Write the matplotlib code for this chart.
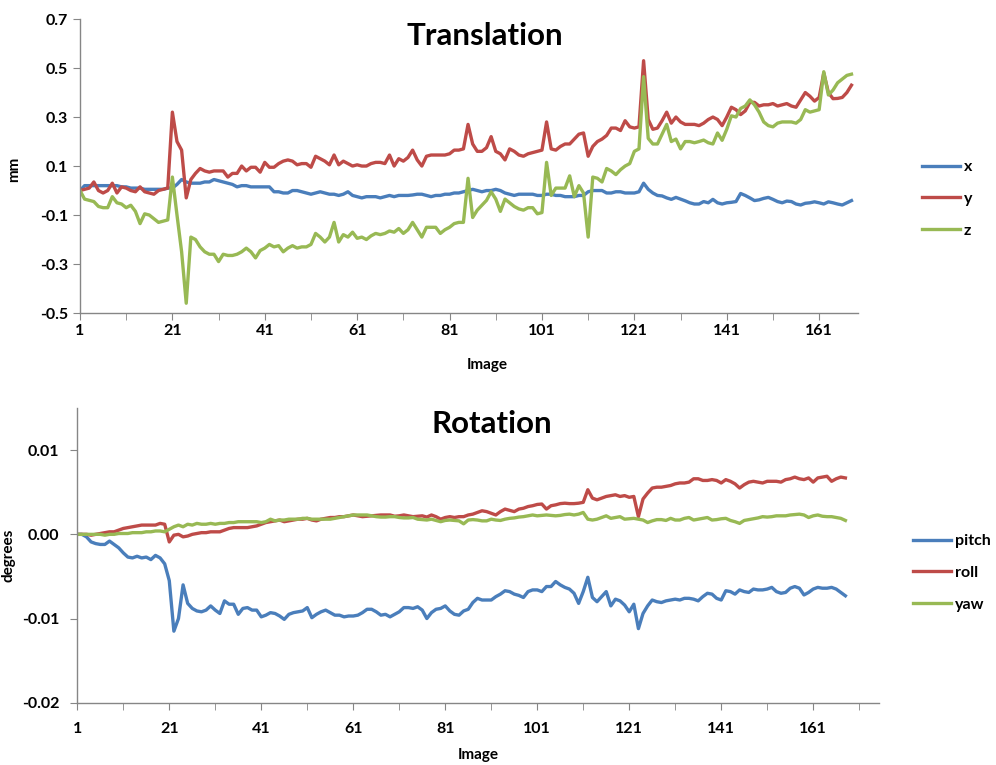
import numpy as np
import matplotlib.pyplot as plt

plt.rcParams['font.family'] = ['Lato', 'DejaVu Sans']
plt.rcParams['font.weight'] = 'bold'
plt.rcParams['axes.unicode_minus'] = False

images = np.arange(1, 169)

# translation, mm
trans_x = [0.00, 0.02, 0.02, 0.02, 0.02, 0.02, 0.02, 0.02, 0.02, 0.015,
           0.015, 0.01, 0.01, 0.01, 0.005, 0.005, 0.005, 0.005, 0.005, 0.01,
           0.01, 0.025, 0.045, 0.035, 0.03, 0.03, 0.03, 0.035, 0.035, 0.045,
           0.04, 0.035, 0.03, 0.025, 0.015, 0.02, 0.02, 0.015, 0.015, 0.015,
           0.015, 0.015, -0.005, -0.005, -0.01, -0.01, 0.0, 0.0, -0.005, -0.01,
           -0.015, -0.01, -0.005, -0.01, -0.015, -0.015, -0.02, -0.015, -0.005, -0.02,
           -0.025, -0.03, -0.025, -0.025, -0.025, -0.03, -0.025, -0.02, -0.025, -0.02,
           -0.02, -0.02, -0.018, -0.015, -0.015, -0.02, -0.025, -0.02, -0.02, -0.015,
           -0.015, -0.01, -0.01, -0.005, 0.0, 0.005, 0.0, -0.005, 0.0, 0.0,
           0.005, 0.0, -0.01, -0.015, -0.02, -0.015, -0.015, -0.015, -0.015, -0.02,
           -0.02, -0.015, -0.015, -0.02, -0.02, -0.025, -0.025, -0.025, -0.02, -0.02,
           -0.005, 0.0, 0.0, 0.0, -0.01, -0.01, -0.005, -0.005, -0.01, -0.01,
           -0.01, -0.005, 0.03, 0.005, -0.01, -0.02, -0.022, -0.03, -0.036, -0.028,
           -0.035, -0.042, -0.05, -0.055, -0.055, -0.045, -0.05, -0.036, -0.05, -0.055,
           -0.05, -0.048, -0.045, -0.012, -0.02, -0.03, -0.041, -0.038, -0.032, -0.028,
           -0.036, -0.045, -0.05, -0.043, -0.045, -0.055, -0.059, -0.052, -0.05, -0.046,
           -0.05, -0.055, -0.046, -0.05, -0.055, -0.059, -0.05, -0.041]
trans_y = [0.0, 0.005, 0.01, 0.035, 0.0, -0.01, 0.0, 0.03, -0.01, 0.015,
           0.01, 0.0, -0.005, 0.015, -0.005, -0.01, -0.015, 0.0, 0.005, 0.01,
           0.32, 0.20, 0.165, -0.03, 0.045, 0.07, 0.09, 0.08, 0.075, 0.08,
           0.08, 0.08, 0.055, 0.07, 0.07, 0.10, 0.08, 0.095, 0.095, 0.075,
           0.115, 0.095, 0.095, 0.11, 0.12, 0.125, 0.12, 0.105, 0.11, 0.11,
           0.095, 0.14, 0.13, 0.12, 0.105, 0.145, 0.105, 0.12, 0.11, 0.10,
           0.105, 0.10, 0.10, 0.11, 0.115, 0.115, 0.11, 0.145, 0.10, 0.13,
           0.12, 0.135, 0.165, 0.125, 0.10, 0.14, 0.145, 0.145, 0.145, 0.145,
           0.15, 0.165, 0.165, 0.17, 0.27, 0.19, 0.16, 0.16, 0.175, 0.22,
           0.16, 0.15, 0.125, 0.17, 0.16, 0.145, 0.14, 0.15, 0.155, 0.16,
           0.165, 0.28, 0.17, 0.165, 0.18, 0.19, 0.19, 0.21, 0.23, 0.235,
           0.14, 0.18, 0.20, 0.21, 0.225, 0.255, 0.255, 0.245, 0.285, 0.26,
           0.255, 0.26, 0.53, 0.29, 0.25, 0.255, 0.285, 0.32, 0.275, 0.30,
           0.28, 0.27, 0.27, 0.27, 0.265, 0.275, 0.29, 0.30, 0.29, 0.265,
           0.30, 0.34, 0.33, 0.31, 0.325, 0.36, 0.36, 0.345, 0.35, 0.35,
           0.355, 0.345, 0.35, 0.355, 0.345, 0.34, 0.37, 0.40, 0.385, 0.365,
           0.38, 0.48, 0.40, 0.375, 0.376, 0.38, 0.40, 0.43]
trans_z = [0.0, -0.035, -0.04, -0.045, -0.065, -0.07, -0.07, -0.025, -0.05, -0.055,
           -0.07, -0.06, -0.085, -0.135, -0.095, -0.10, -0.115, -0.13, -0.125, -0.12,
           0.055, -0.10, -0.25, -0.46, -0.19, -0.20, -0.23, -0.25, -0.26, -0.26,
           -0.29, -0.26, -0.265, -0.265, -0.26, -0.25, -0.235, -0.25, -0.275, -0.245,
           -0.235, -0.22, -0.23, -0.225, -0.25, -0.235, -0.225, -0.235, -0.23, -0.23,
           -0.22, -0.175, -0.19, -0.21, -0.19, -0.13, -0.21, -0.18, -0.19, -0.17,
           -0.195, -0.19, -0.20, -0.185, -0.175, -0.18, -0.175, -0.165, -0.17, -0.155,
           -0.175, -0.16, -0.13, -0.16, -0.19, -0.15, -0.15, -0.15, -0.175, -0.16,
           -0.15, -0.135, -0.13, -0.13, 0.05, -0.11, -0.08, -0.06, -0.04, -0.005,
           -0.035, -0.085, -0.035, -0.05, -0.065, -0.075, -0.08, -0.07, -0.07, -0.095,
           -0.09, 0.115, -0.02, 0.01, 0.01, 0.01, 0.06, -0.025, 0.02, -0.01,
           -0.19, 0.055, 0.05, 0.035, 0.09, 0.08, 0.065, 0.085, 0.10, 0.11,
           0.16, 0.17, 0.465, 0.213, 0.19, 0.19, 0.23, 0.27, 0.20, 0.21,
           0.17, 0.20, 0.20, 0.195, 0.20, 0.206, 0.195, 0.19, 0.235, 0.205,
           0.25, 0.305, 0.30, 0.335, 0.345, 0.37, 0.35, 0.32, 0.28, 0.265,
           0.26, 0.275, 0.28, 0.28, 0.28, 0.275, 0.29, 0.33, 0.32, 0.325,
           0.33, 0.485, 0.39, 0.41, 0.44, 0.455, 0.47, 0.475]

# rotation, in thousandths of a degree
pitch_mdeg = [0, 0, -0.3, -0.9, -1.1, -1.2, -1.2, -0.8, -1.2, -1.6,
              -2.2, -2.7, -2.8, -2.6, -2.8, -2.7, -3.0, -2.5, -2.8, -3.5,
              -5.5, -11.5, -10.0, -6.0, -8.2, -8.8, -9.1, -9.2, -9.0, -8.5,
              -9.0, -9.4, -7.9, -8.3, -8.3, -9.5, -8.8, -8.7, -9.0, -9.0,
              -9.8, -9.6, -9.3, -9.4, -9.7, -10.1, -9.5, -9.3, -9.2, -9.1,
              -8.7, -9.9, -9.5, -9.2, -9.0, -9.3, -9.6, -9.6, -9.8, -9.7,
              -9.7, -9.6, -9.3, -8.9, -8.9, -9.2, -9.6, -9.5, -9.8, -9.5,
              -9.2, -8.7, -8.7, -8.8, -8.6, -9.0, -10.0, -9.3, -8.9, -8.8,
              -8.5, -9.1, -9.5, -9.6, -9.1, -8.9, -8.1, -7.6, -7.8, -7.8,
              -7.8, -7.4, -7.1, -6.7, -6.8, -7.1, -7.25, -7.5, -6.8, -6.6,
              -6.6, -6.8, -6.2, -6.2, -5.6, -6.0, -6.3, -6.5, -7.0, -8.2,
              -6.8, -5.1, -7.5, -8.0, -7.4, -6.8, -8.5, -7.7, -7.9, -8.4,
              -9.2, -8.3, -11.2, -9.4, -8.5, -7.8, -8.0, -8.1, -7.9, -7.8,
              -7.7, -7.8, -7.6, -7.6, -7.7, -7.9, -7.4, -7.0, -7.1, -7.6,
              -7.8, -6.7, -6.8, -7.1, -6.6, -6.8, -6.9, -6.5, -6.6, -6.6,
              -6.5, -6.3, -6.8, -7.0, -6.9, -6.4, -6.2, -6.4, -7.2, -6.9,
              -6.5, -6.3, -6.4, -6.4, -6.3, -6.5, -6.9, -7.3]
roll_mdeg = [0, 0, 0, -0.1, 0.0, 0.1, 0.2, 0.3, 0.3, 0.5,
             0.7, 0.8, 0.9, 1.0, 1.1, 1.1, 1.1, 1.1, 1.3, 1.2,
             -0.9, -0.1, 0.0, -0.3, -0.2, 0.0, 0.1, 0.2, 0.2, 0.3,
             0.3, 0.3, 0.5, 0.7, 0.8, 0.8, 0.8, 0.8, 0.9, 1.0,
             1.2, 1.4, 1.5, 1.6, 1.7, 1.5, 1.6, 1.7, 1.8, 1.8,
             1.9, 1.7, 1.6, 1.8, 1.9, 2.0, 2.0, 2.1, 2.1, 2.2,
             2.3, 2.2, 2.1, 2.15, 2.2, 2.25, 2.3, 2.3, 2.3, 2.15,
             2.2, 2.3, 2.2, 2.1, 2.15, 2.2, 2.05, 2.3, 2.1, 1.8,
             2.0, 2.1, 2.0, 2.1, 2.1, 2.3, 2.4, 2.6, 2.8, 2.7,
             2.5, 2.3, 2.7, 3.0, 2.85, 2.7, 3.0, 3.1, 3.3, 3.4,
             3.55, 3.6, 3.0, 3.4, 3.5, 3.65, 3.7, 3.65, 3.65, 3.7,
             3.8, 5.3, 4.3, 4.1, 4.3, 4.5, 4.6, 4.7, 4.5, 4.6,
             4.4, 4.5, 2.1, 4.2, 4.9, 5.5, 5.6, 5.6, 5.7, 5.8,
             6.0, 6.1, 6.1, 6.2, 6.6, 6.6, 6.4, 6.4, 6.5, 6.4,
             6.1, 6.5, 6.3, 6.0, 5.5, 5.9, 6.2, 6.3, 6.2, 6.1,
             6.3, 6.3, 6.3, 6.2, 6.5, 6.6, 6.8, 6.6, 6.5, 6.7,
             6.2, 6.7, 6.8, 6.9, 6.3, 6.6, 6.8, 6.7]
yaw_mdeg = [0, 0, 0, 0, 0, 0, -0.1, 0, 0, 0.1,
            0.1, 0.1, 0.2, 0.2, 0.2, 0.3, 0.3, 0.4, 0.4, 0.3,
            0.6, 0.9, 1.1, 0.9, 1.2, 1.1, 1.3, 1.2, 1.2, 1.3,
            1.2, 1.3, 1.3, 1.4, 1.4, 1.5, 1.5, 1.5, 1.5, 1.5,
            1.4, 1.5, 1.8, 1.6, 1.7, 1.7, 1.8, 1.8, 1.8, 1.9,
            1.9, 1.8, 1.8, 1.8, 1.8, 1.8, 1.9, 2.0, 2.1, 2.2,
            2.3, 2.3, 2.3, 2.3, 2.2, 2.1, 2.05, 2.05, 2.1, 2.1,
            2.0, 1.95, 1.95, 2.0, 1.8, 1.75, 1.7, 1.8, 1.65, 1.5,
            1.65, 1.7, 1.65, 1.6, 1.25, 1.7, 1.75, 1.7, 1.6, 1.6,
            1.8, 1.7, 1.65, 1.8, 1.9, 1.95, 2.05, 2.1, 2.2, 2.3,
            2.2, 2.25, 2.3, 2.25, 2.2, 2.25, 2.35, 2.4, 2.3, 2.4,
            2.6, 1.8, 1.7, 1.8, 2.0, 2.2, 1.9, 2.0, 2.1, 1.8,
            1.85, 1.9, 1.8, 1.7, 1.4, 1.6, 1.75, 1.75, 1.65, 1.9,
            1.7, 1.7, 1.9, 2.0, 1.7, 1.8, 1.9, 2.0, 1.7, 1.75,
            1.85, 1.9, 1.65, 1.5, 1.3, 1.65, 1.75, 1.85, 1.95, 2.1,
            2.05, 2.1, 2.2, 2.2, 2.2, 2.3, 2.35, 2.4, 2.3, 2.0,
            2.2, 2.3, 2.15, 2.1, 2.1, 2.0, 1.9, 1.65]

pitch = np.array(pitch_mdeg) / 1000
roll = np.array(roll_mdeg) / 1000
yaw = np.array(yaw_mdeg) / 1000

blue = '#4A7EBB'
red = '#BE4B48'
green = '#98B954'
axis_grey = '#868686'
lw = 2.4

fig = plt.figure(figsize=(9.96, 7.65), dpi=100)
ax1 = fig.add_axes([0.0803, 0.5908, 0.7811, 0.3843])
ax2 = fig.add_axes([0.0776, 0.0814, 0.8049, 0.3852])


def style_axes(ax, xmax, ypad, xpad):
    for side in ['top', 'right']:
        ax.spines[side].set_visible(False)
    for side in ['left', 'bottom']:
        ax.spines[side].set_color(axis_grey)
        ax.spines[side].set_linewidth(1)
    ax.set_xlim(1, xmax)
    ax.set_xticks(np.arange(1, 162, 20))
    ax.set_xticks(np.arange(11, xmax, 20), minor=True)
    ax.tick_params(axis='x', which='both', direction='out', length=5,
                   color=axis_grey, pad=xpad, labelsize=11.5)
    ax.tick_params(axis='y', direction='out', length=5, color=axis_grey,
                   pad=ypad, labelsize=11.5)


# translation
ax1.plot(images, trans_x, color=blue, lw=lw, label='x')
ax1.plot(images, trans_y, color=red, lw=lw, label='y')
ax1.plot(images, trans_z, color=green, lw=lw, label='z')
style_axes(ax1, 169.4, 3.5, 3)
ax1.set_ylim(-0.5, 0.7)
ax1.set_yticks(np.arange(-0.5, 0.71, 0.2))
ax1.set_yticklabels(['-0.5', '-0.3', '-0.1', '0.1', '0.3', '0.5', '0.7'])
ax1.set_xlabel('Image', fontsize=11, fontweight='bold', va='center')
ax1.xaxis.set_label_coords(0.523, -0.177)
ax1.set_ylabel('mm', fontsize=11, fontweight='bold', va='center')
ax1.yaxis.set_label_coords(-0.085, 0.49)
ax1.text(0.52, 0.912, 'Translation', transform=ax1.transAxes, ha='center',
         va='baseline', fontsize=22.5, fontweight='bold')
ax1.legend(loc='center left', bbox_to_anchor=(0.9257, 0.7399),
           bbox_transform=fig.transFigure, frameon=False, fontsize=11.5,
           handlelength=2.4, handletextpad=0.2, labelspacing=1.1,
           borderpad=0, borderaxespad=0)

# rotation
ax2.plot(images, pitch, color=blue, lw=lw, label='pitch')
ax2.plot(images, roll, color=red, lw=lw, label='roll')
ax2.plot(images, yaw, color=green, lw=lw, label='yaw')
style_axes(ax2, 175.3, 8, 9)
ax2.set_ylim(-0.02, 0.015)
ax2.set_yticks([-0.02, -0.01, 0.0, 0.01])
ax2.set_yticklabels(['-0.02', '-0.01', '0.00', '0.01'])
ax2.set_xlabel('Image', fontsize=11, fontweight='bold', va='center')
ax2.xaxis.set_label_coords(0.5, -0.178)
ax2.set_ylabel('degrees', fontsize=11, fontweight='bold', va='center')
ax2.yaxis.set_label_coords(-0.086, 0.5)
ax2.text(0.517, 0.916, 'Rotation', transform=ax2.transAxes, ha='center',
         va='baseline', fontsize=22.5, fontweight='bold')
ax2.legend(loc='center left', bbox_to_anchor=(0.9167, 0.251),
           bbox_transform=fig.transFigure, frameon=False, fontsize=11.5,
           handlelength=2.4, handletextpad=0.2, labelspacing=1.1,
           borderpad=0, borderaxespad=0)

fig.savefig('out.png', dpi=100)
